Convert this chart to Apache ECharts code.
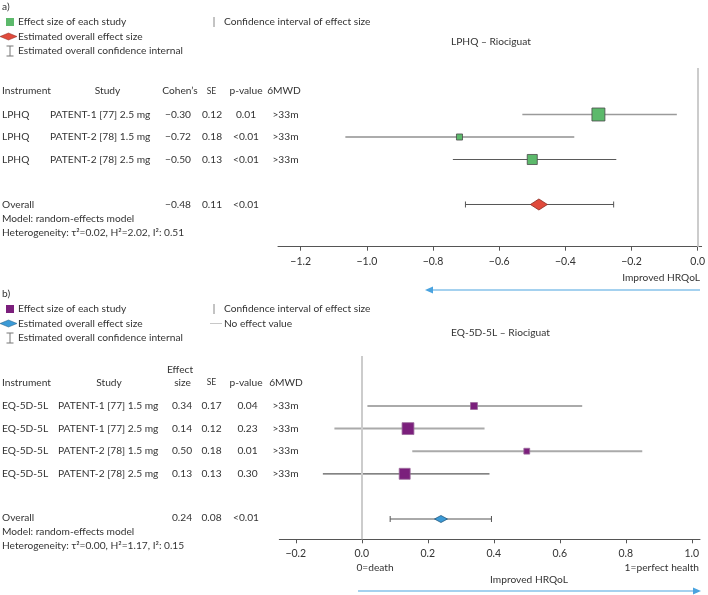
<!DOCTYPE html>
<html><head><meta charset="utf-8">
<script src="https://cdn.jsdelivr.net/npm/echarts@6/dist/echarts.min.js"></script>
<style>html,body{margin:0;padding:0;background:#fff}#c{width:708px;height:595px}</style>
</head><body><div id="c"></div>
<script>
// ---------- DATA ----------
const instrA = ['LPHQ', 'LPHQ', 'LPHQ'];
const studiesA = ['PATENT-1 [77] 2.5 mg', 'PATENT-2 [78] 1.5 mg', 'PATENT-2 [78] 2.5 mg'];
const effectA = [-0.30, -0.72, -0.50];
const seA = [0.12, 0.18, 0.13];
const pA = ['0.01', '<0.01', '<0.01'];
const mwdA = ['>33m', '>33m', '>33m'];
const ciLowA = [-0.53, -1.065, -0.74];
const ciHighA = [-0.063, -0.373, -0.246];
const weightA = [55, 12, 33];
const overallA = [-0.48, 0.11];          // effect, SE
const overallPA = '<0.01';
const overallCIA = [-0.702, -0.254];
const hetA = 'Heterogeneity: τ²=0.02, H²=2.02, I²: 0.51';
const ticksA = [-1.2, -1.0, -0.8, -0.6, -0.4, -0.2, 0.0];

const instrB = ['EQ-5D-5L', 'EQ-5D-5L', 'EQ-5D-5L', 'EQ-5D-5L'];
const studiesB = ['PATENT-1 [77] 1.5 mg', 'PATENT-1 [77] 2.5 mg', 'PATENT-2 [78] 1.5 mg', 'PATENT-2 [78] 2.5 mg'];
const effectB = [0.34, 0.14, 0.50, 0.13];
const seB = [0.17, 0.12, 0.18, 0.13];
const pB = ['0.04', '0.23', '0.01', '0.30'];
const mwdB = ['>33m', '>33m', '>33m', '>33m'];
const ciLowB = [0.017, -0.083, 0.153, -0.118];
const ciHighB = [0.668, 0.372, 0.85, 0.387];
const weightB = [14, 41, 10, 35];
const overallB = [0.24, 0.08];
const overallPB = '<0.01';
const overallCIB = [0.086, 0.393];
const hetB = 'Heterogeneity: τ²=0.00, H²=1.17, I²: 0.15';
const ticksB = [-0.2, 0.0, 0.2, 0.4, 0.6, 0.8, 1.0];

// ---------- STYLE ----------
const FONT = 'Lato';
const TXT = '#333';
const FS = 10.2;
const cfg = {
  A: {fill: '#5cb96b', stroke: '#4a4a4a', dFill: '#e04a3c', dStroke: '#8a2b22', k: 1.75, dW: 17, dH: 11,
      lineColors: ['#9a9a9a', '#5a5a5a', '#5a5a5a'], lineWidths: [1.5, 1.2, 1.2]},
  B: {fill: '#7b1f7c', stroke: '#9a6a9a', dFill: '#3b9ad6', dStroke: '#235a80', k: 1.85, dW: 13, dH: 7,
      lineColors: ['#aaaaaa', '#aaaaaa', '#aaaaaa', '#5a5a5a'], lineWidths: [2, 2, 2, 1.2]}
};

function fmt(v) { return v.toFixed(1).replace('-', '−'); }

function studyData(lo, hi, eff, w) {
  return eff.map((e, i) => [lo[i], hi[i], i, e, w[i]]);
}

function mkStudyRender(c) {
  return function (params, api) {
    const y = api.value(2);
    const p1 = api.coord([api.value(0), y]);
    const p2 = api.coord([api.value(1), y]);
    const pc = api.coord([api.value(3), y]);
    const s = c.k * Math.sqrt(api.value(4));
    const i = params.dataIndex;
    return {type: 'group', children: [
      {type: 'line', shape: {x1: p1[0], y1: p1[1], x2: p2[0], y2: p2[1]},
       style: {stroke: c.lineColors[i], lineWidth: c.lineWidths[i]}},
      {type: 'rect', shape: {x: pc[0] - s / 2, y: pc[1] - s / 2, width: s, height: s},
       style: {fill: c.fill, stroke: c.stroke, lineWidth: 0.8}}
    ]};
  };
}

function mkOverallRender(c) {
  return function (params, api) {
    const y = api.value(2);
    const p1 = api.coord([api.value(0), y]);
    const p2 = api.coord([api.value(1), y]);
    const pc = api.coord([api.value(3), y]);
    const cap = 3;
    return {type: 'group', children: [
      {type: 'line', shape: {x1: p1[0], y1: p1[1], x2: p2[0], y2: p2[1]}, style: {stroke: '#555', lineWidth: 1}},
      {type: 'line', shape: {x1: p1[0], y1: p1[1] - cap, x2: p1[0], y2: p1[1] + cap}, style: {stroke: '#555', lineWidth: 1}},
      {type: 'line', shape: {x1: p2[0], y1: p2[1] - cap, x2: p2[0], y2: p2[1] + cap}, style: {stroke: '#555', lineWidth: 1}},
      {type: 'polygon', shape: {points: [[pc[0] - c.dW / 2, pc[1]], [pc[0], pc[1] - c.dH / 2], [pc[0] + c.dW / 2, pc[1]], [pc[0], pc[1] + c.dH / 2]]},
       style: {fill: c.dFill, stroke: c.dStroke, lineWidth: 0.8}}
    ]};
  };
}

function xAxisOpt(grid, min, max, ticks) {
  return {
    type: 'value', gridIndex: grid, min: min, max: max, position: 'bottom',
    axisLine: {show: true, onZero: false, lineStyle: {color: '#555', width: 1}},
    axisTick: {show: true, length: 4, customValues: ticks, lineStyle: {color: '#555'}},
    axisLabel: {customValues: ticks, formatter: fmt, color: TXT, fontSize: 10.5, fontFamily: FONT, margin: 9},
    splitLine: {show: false}
  };
}
function yAxisOpt(grid, min, max) {
  return {type: 'value', gridIndex: grid, inverse: true, min: min, max: max, show: false};
}

const chart = echarts.init(document.getElementById('c'), null, {renderer: 'canvas'});
chart.setOption({
  animation: false,
  textStyle: {fontFamily: FONT},
  grid: [
    {left: 278, top: 68, width: 424, height: 178.7},
    {left: 279.3, top: 356, width: 420.7, height: 183.3}
  ],
  xAxis: [xAxisOpt(0, -1.2686, 0.012, ticksA), xAxisOpt(1, -0.25, 1.025, ticksB)],
  yAxis: [yAxisOpt(0, -2.067, 5.876), yAxisOpt(1, -2.212, 5.898)],
  series: [
    {type: 'custom', xAxisIndex: 0, yAxisIndex: 0, renderItem: mkStudyRender(cfg.A),
     data: studyData(ciLowA, ciHighA, effectA, weightA), encode: {x: [0, 1, 3], y: 2}, z: 3,
     markLine: {silent: true, symbol: 'none', label: {show: false}, lineStyle: {color: '#cccccc', width: 2, type: 'solid'},
       data: [{xAxis: 0}]}},
    {type: 'custom', xAxisIndex: 0, yAxisIndex: 0, renderItem: mkOverallRender(cfg.A),
     data: [[overallCIA[0], overallCIA[1], effectA.length + 1, overallA[0]]], encode: {x: [0, 1, 3], y: 2}, z: 3},
    {type: 'custom', xAxisIndex: 1, yAxisIndex: 1, renderItem: mkStudyRender(cfg.B),
     data: studyData(ciLowB, ciHighB, effectB, weightB), encode: {x: [0, 1, 3], y: 2}, z: 3,
     markLine: {silent: true, symbol: 'none', label: {show: false}, lineStyle: {color: '#cccccc', width: 2, type: 'solid'},
       data: [{xAxis: 0}]}},
    {type: 'custom', xAxisIndex: 1, yAxisIndex: 1, renderItem: mkOverallRender(cfg.B),
     data: [[overallCIB[0], overallCIB[1], effectB.length + 1, overallB[0]]], encode: {x: [0, 1, 3], y: 2}, z: 3}
  ]
});

// ---------- TEXT / ANNOTATIONS ----------
const g = [];
function T(text, x, y, align, opts) {
  g.push(Object.assign({type: 'text', x: x, y: y, silent: true,
    style: Object.assign({text: text, fill: TXT, fontSize: FS, fontFamily: FONT, align: align || 'left', verticalAlign: 'middle'}, opts || {})}));
}
function L(x1, y1, x2, y2, color, w) {
  g.push({type: 'line', silent: true, shape: {x1: x1, y1: y1, x2: x2, y2: y2}, style: {stroke: color, lineWidth: w || 1}});
}
function rowY(grid, r) { return chart.convertToPixel({gridIndex: grid}, [0, r])[1]; }

function legend(label, y0, c, sqColor, dCol, dStroke, noEffect) {
  T(label, 2, y0, 'left');
  const y1 = y0 + 15, y2 = y1 + 14.5, y3 = y2 + 14.5;
  g.push({type: 'rect', silent: true, shape: {x: 6, y: y1 - 4, width: 8, height: 8}, style: {fill: sqColor}});
  T('Effect size of each study', 18, y1);
  L(214, y1 - 5, 214, y1 + 5, '#888', 1);
  T('Confidence interval of effect size', 224, y1);
  g.push({type: 'polygon', silent: true, shape: {points: [[0, y2], [8.5, y2 - 3.5], [17, y2], [8.5, y2 + 3.5]]}, style: {fill: dCol, stroke: dStroke, lineWidth: 0.5}});
  T('Estimated overall effect size', 18, y2);
  if (noEffect) {
    L(210, y2, 222, y2, '#c8c8c8', 1);
    T('No effect value', 224, y2);
  }
  L(10, y3 - 5, 10, y3 + 5, '#777', 1);
  L(6.5, y3 - 5, 13.5, y3 - 5, '#777', 1);
  L(6.5, y3 + 5, 13.5, y3 + 5, '#777', 1);
  T('Estimated overall confidence internal', 18, y3);
}

legend('a)', 7, cfg.A, cfg.A.fill, cfg.A.dFill, cfg.A.dStroke, false);
legend('b)', 294, cfg.B, cfg.B.fill, cfg.B.dFill, cfg.B.dStroke, true);

T('LPHQ – Riociguat', 451, 42);
T('EQ-5D-5L – Riociguat', 451, 333);

// Table A
(function () {
  const hy = 91;
  T('Instrument', 2, hy); T('Study', 107.5, hy, 'center'); T('Cohen’s', 180, hy, 'center');
  T('SE', 211.5, hy, 'center', {fontSize: 8.5}); T('p-value', 246, hy, 'center'); T('6MWD', 284, hy, 'center');
  for (let i = 0; i < studiesA.length; i++) {
    const y = rowY(0, i);
    T(instrA[i], 2, y); T(studiesA[i], 50, y);
    T(effectA[i].toFixed(2).replace('-', '−'), 178, y, 'center');
    T(seA[i].toFixed(2), 212, y, 'center'); T(pA[i], 246, y, 'center'); T(mwdA[i], 285.5, y, 'center');
  }
  const oy = rowY(0, studiesA.length + 1);
  T('Overall', 2, oy); T(overallA[0].toFixed(2).replace('-', '−'), 178, oy, 'center');
  T(overallA[1].toFixed(2), 212, oy, 'center'); T(overallPA, 246, oy, 'center');
  T('Model: random-effects model', 2, oy + 14.3);
  T(hetA, 2, oy + 28.3);
})();

// Table B
(function () {
  T('Effect', 180, 370, 'center');
  const hy = 382.7;
  T('Instrument', 2, hy); T('Study', 109, hy, 'center'); T('size', 182.5, hy, 'center');
  T('SE', 211.5, hy, 'center', {fontSize: 8.5}); T('p-value', 246, hy, 'center'); T('6MWD', 286, hy, 'center');
  for (let i = 0; i < studiesB.length; i++) {
    const y = rowY(1, i);
    T(instrB[i], 2, y); T(studiesB[i], 58, y);
    T(effectB[i].toFixed(2), 182, y, 'center');
    T(seB[i].toFixed(2), 211.5, y, 'center'); T(pB[i], 247.5, y, 'center'); T(mwdB[i], 285.5, y, 'center');
  }
  const oy = rowY(1, studiesB.length + 1) - 1.5;
  T('Overall', 2, oy); T(overallB[0].toFixed(2), 182, oy, 'center');
  T(overallB[1].toFixed(2), 211.5, oy, 'center'); T(overallPB, 246, oy, 'center');
  T('Model: random-effects model', 2, oy + 14.3);
  T(hetB, 2, oy + 28.3);
})();

// Axis annotations A
T('Improved HRQoL', 700, 278, 'right');
L(432, 290, 700, 290, '#4aa3df', 1.2);
g.push({type: 'polygon', silent: true, shape: {points: [[425, 290], [433, 286.5], [433, 293.5]]}, style: {fill: '#4aa3df'}});

// Axis annotations B
T('0=death', 375, 567.7, 'center');
T('1=perfect health', 699, 567.7, 'right');
T('Improved HRQoL', 529, 579.5, 'center');
L(358, 591, 694, 591, '#4aa3df', 1.2);
g.push({type: 'polygon', silent: true, shape: {points: [[701, 591], [693, 587.5], [693, 594.5]]}, style: {fill: '#4aa3df'}});

chart.setOption({graphic: g});
</script>
</body></html>
